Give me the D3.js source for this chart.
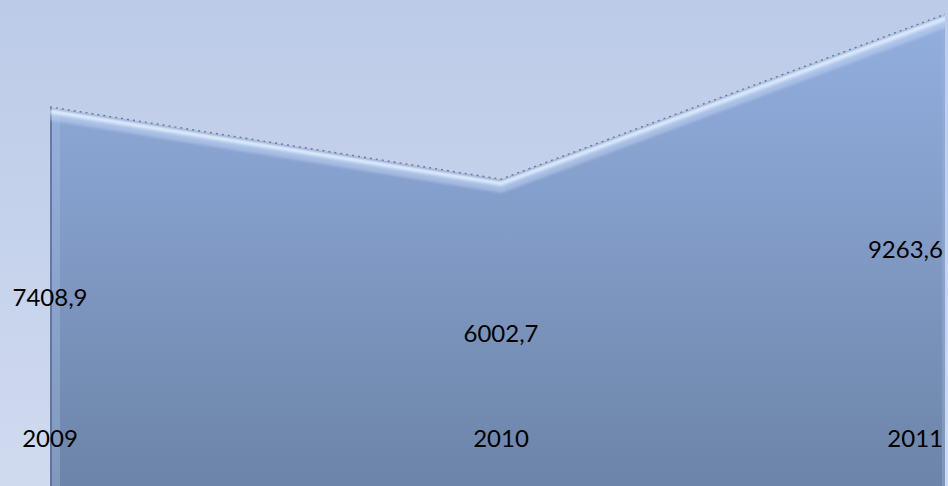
<!DOCTYPE html>
<html><head><meta charset="utf-8">
<script src="https://cdn.jsdelivr.net/npm/d3@7"></script>
<style>html,body{margin:0;padding:0;background:#bfcdea;}svg{display:block;}</style>
</head><body>
<svg id="c" width="948" height="486"></svg>
<script>
const categories = ["2009", "2010", "2011"];
const values = [7408.9, 6002.7, 9263.6];
const valueLabels = ["7408,9", "6002,7", "9263,6"];

const W = 948, H = 486;
const svg = d3.select("#c");
const defs = svg.append("defs");

const bg = defs.append("linearGradient").attr("id","bg").attr("x1",0).attr("y1",0).attr("x2",0).attr("y2",1);
bg.append("stop").attr("offset","0%").attr("stop-color","#bccbe8");
bg.append("stop").attr("offset","100%").attr("stop-color","#d0daef");

const ag = defs.append("linearGradient").attr("id","ag").attr("gradientUnits","userSpaceOnUse")
  .attr("x1",0).attr("y1",0).attr("x2",0).attr("y2",H);
ag.append("stop").attr("offset","0%").attr("stop-color","#94b0e0");
ag.append("stop").attr("offset","45%").attr("stop-color","#839dc9");
ag.append("stop").attr("offset","100%").attr("stop-color","#6c84a7");

const blur = defs.append("filter").attr("id","blur").attr("x","-5%").attr("y","-50%").attr("width","110%").attr("height","200%");
blur.append("feGaussianBlur").attr("stdDeviation",1.6);

svg.append("rect").attr("width",W).attr("height",H).attr("fill","url(#bg)");

const plotRight = 945;
const x = d3.scalePoint().domain(categories).range([50, 952]);
const y = d3.scaleLinear().domain([0, 9500]).range([488, 0]);

const data = categories.map((c,i)=>({c, v: values[i], label: valueLabels[i]}));

const area = d3.area().x(d=>x(d.c)).y0(y(0)).y1(d=>y(d.v));
const line = d3.line().x(d=>x(d.c)).y(d=>y(d.v));

defs.append("clipPath").attr("id","plot").append("rect").attr("x",0).attr("y",0).attr("width",plotRight).attr("height",H);
const root = svg.append("g").attr("clip-path","url(#plot)");

root.append("path").datum(data).attr("d", area).attr("fill","url(#ag)");

const clip = defs.append("clipPath").attr("id","clipA");
clip.append("path").datum(data).attr("d", area);
const g = root.append("g").attr("clip-path","url(#clipA)");
g.append("rect").attr("x", x(categories[0])).attr("y",0).attr("width",2).attr("height",H).attr("fill","#5a7297").attr("opacity",0.8);
g.append("rect").attr("x", x(categories[0])+2).attr("y",0).attr("width",8).attr("height",H).attr("fill","#a9c0e8").attr("opacity",0.35);
g.append("rect").attr("x", plotRight-3).attr("y",0).attr("width",3).attr("height",H).attr("fill","#9db2d8").attr("opacity",0.4);
g.append("path").datum(data).attr("d", line).attr("transform","translate(0,4)")
  .attr("fill","none").attr("stroke","#e4f0ff").attr("stroke-width",5).attr("filter","url(#blur)");
g.append("path").datum(data).attr("d", line).attr("transform","translate(0,9)")
  .attr("fill","none").attr("stroke","#c5d8f5").attr("stroke-width",8).attr("opacity",0.5).attr("filter","url(#blur)");

root.append("path").datum(data).attr("d", line).attr("transform","translate(0,-0.5)")
  .attr("fill","none").attr("stroke","#6f7b8c").attr("stroke-width",1.4).attr("stroke-dasharray","2,4");

const font = "Lato, 'Open Sans', sans-serif";
const last = categories.length-1;
const anchor = (i)=> i===last ? "end" : "middle";
const ax = (i)=> i===last ? plotRight - 2 : x(categories[i]);

svg.append("g").selectAll("text").data(data).join("text")
  .attr("x",(d,i)=>ax(i)).attr("y",d=>y(d.v/2)+8)
  .attr("text-anchor",(d,i)=>anchor(i))
  .attr("font-family",font).attr("font-size",24).attr("fill","#000")
  .text(d=>d.label);

svg.append("g").selectAll("text").data(data).join("text")
  .attr("x",(d,i)=>ax(i)).attr("y",447)
  .attr("text-anchor",(d,i)=>anchor(i))
  .attr("font-family",font).attr("font-size",24).attr("fill","#000")
  .text(d=>d.c);
</script>
</body></html>
